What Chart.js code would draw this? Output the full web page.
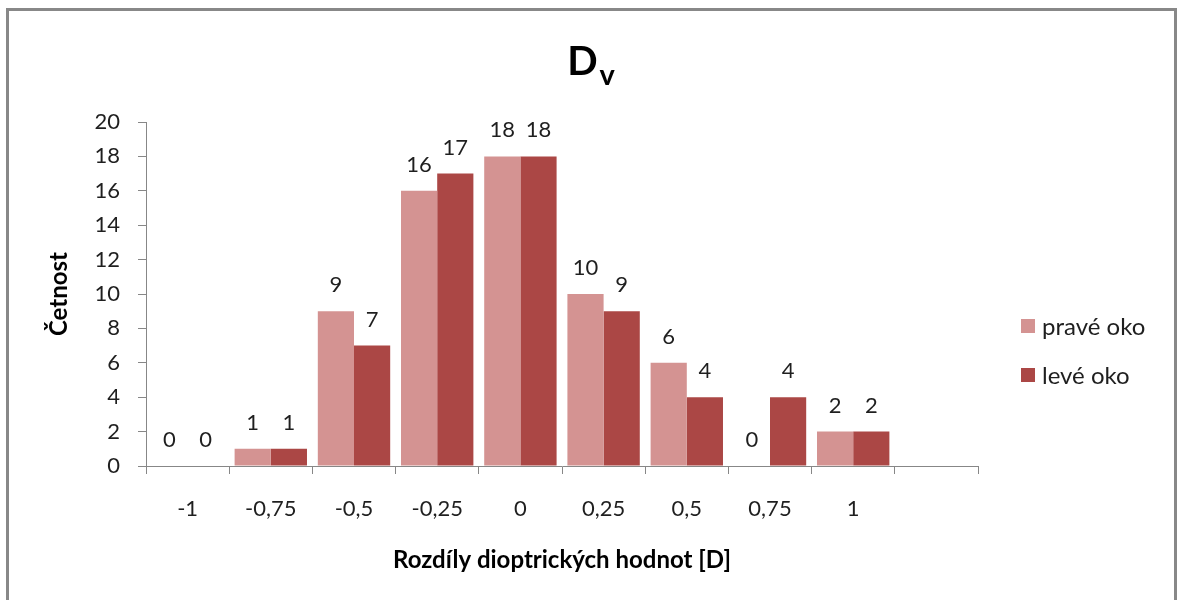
<!DOCTYPE html>
<html>
<head>
<meta charset="utf-8">
<title>Dv – rozdíly dioptrických hodnot</title>
<script src="https://cdn.jsdelivr.net/npm/chart.js@4/dist/chart.umd.min.js"></script>
<style>
  html, body { margin: 0; padding: 0; background: #ffffff; }
  canvas { display: block; }
</style>
</head>
<body>
<canvas id="chart" width="1178" height="600"></canvas>
<script>
// Categories: dioptric differences [D]; the last slot is an empty category
const categories = ['-1', '-0,75', '-0,5', '-0,25', '0', '0,25', '0,5', '0,75', '1', ''];
// Frequencies for each eye
const praveOko = [0, 1, 9, 16, 18, 10, 6, 0, 2, null];
const leveOko  = [0, 1, 7, 17, 18, 9, 4, 4, 2, null];
// Value axis ticks
const yMin = 0, yMax = 20, yStep = 2;

const seriesNames = ['pravé oko', 'levé oko'];
const colors = ['#D49392', '#AB4745'];
const FONT = 'Lato, "Open Sans", sans-serif';
const TEXT = '#1f1f1f';
const AXIS = '#878787';

// Gray frame around the whole chart
const framePlugin = {
  id: 'frame',
  beforeDraw(chart) {
    const ctx = chart.ctx;
    ctx.save();
    ctx.fillStyle = '#ffffff';
    ctx.fillRect(0, 0, chart.width, chart.height);
    ctx.strokeStyle = '#888888';
    ctx.lineWidth = 3;
    ctx.beginPath();
    ctx.moveTo(7.5, chart.height + 2);
    ctx.lineTo(7.5, 9.5);
    ctx.lineTo(1175.5, 9.5);
    ctx.lineTo(1175.5, chart.height + 2);
    ctx.stroke();
    ctx.restore();
  }
};

// Title "D" with subscript "v"
const titlePlugin = {
  id: 'subTitle',
  afterDraw(chart) {
    const ctx = chart.ctx;
    ctx.save();
    ctx.fillStyle = '#000000';
    ctx.textBaseline = 'alphabetic';
    ctx.textAlign = 'left';
    const bigFont = 'bold 40px ' + FONT;
    const smallFont = 'bold 29px ' + FONT;
    ctx.font = bigFont;
    const wD = ctx.measureText('D').width;
    ctx.font = smallFont;
    const wV = ctx.measureText('v').width;
    const total = wD + 2 + wV;
    const x0 = 591 - total / 2;
    ctx.font = bigFont;
    ctx.fillText('D', x0, 75);
    ctx.font = smallFont;
    ctx.fillText('v', x0 + wD + 2, 85);
    ctx.restore();
  }
};

// Value labels above each bar
const valueLabels = {
  id: 'valueLabels',
  afterDatasetsDraw(chart) {
    const ctx = chart.ctx;
    ctx.save();
    ctx.font = '22px ' + FONT;
    ctx.fillStyle = TEXT;
    ctx.textAlign = 'center';
    ctx.textBaseline = 'alphabetic';
    chart.data.datasets.forEach((ds, di) => {
      chart.getDatasetMeta(di).data.forEach((bar, i) => {
        const v = ds.data[i];
        if (v === null || v === undefined) return;
        ctx.fillText(String(v), bar.x, bar.y - 19);
      });
    });
    ctx.restore();
  }
};

// Legend on the right
const sideLegend = {
  id: 'sideLegend',
  afterDraw(chart) {
    const ctx = chart.ctx;
    ctx.save();
    ctx.font = '24px ' + FONT;
    ctx.textBaseline = 'middle';
    ctx.textAlign = 'left';
    const rows = [326, 375];
    chart.data.datasets.forEach((ds, i) => {
      const cy = rows[i];
      ctx.fillStyle = ds.backgroundColor;
      ctx.fillRect(1021, cy - 7, 14, 14);
      ctx.fillStyle = TEXT;
      ctx.fillText(ds.label, 1042, cy + 1);
    });
    ctx.restore();
  }
};

function build() {
  new Chart(document.getElementById('chart'), {
    type: 'bar',
    data: {
      labels: categories,
      datasets: [
        { label: seriesNames[0], data: praveOko, backgroundColor: colors[0] },
        { label: seriesNames[1], data: leveOko, backgroundColor: colors[1] }
      ]
    },
    options: {
      responsive: false,
      animation: false,
      devicePixelRatio: 1,
      layout: { padding: { left: 0, right: 200, top: 122, bottom: 0 } },
      datasets: { bar: { categoryPercentage: 0.87, barPercentage: 1.0, borderWidth: 0 } },
      plugins: {
        legend: { display: false },
        title: { display: false },
        tooltip: { enabled: false }
      },
      scales: {
        x: {
          offset: true,
          afterFit(scale) { scale.height = 134; },
          grid: {
            display: true,
            offset: true,
            drawOnChartArea: false,
            drawTicks: true,
            tickLength: 8,
            color: AXIS,
            lineWidth: 1
          },
          border: { display: true, color: AXIS, width: 1 },
          ticks: {
            color: TEXT,
            font: { family: FONT, size: 22 },
            padding: 22,
            maxRotation: 0,
            autoSkip: false
          },
          title: {
            display: true,
            text: 'Rozdíly dioptrických hodnot [D]',
            color: '#000000',
            font: { family: FONT, size: 24, weight: 'bold' },
            padding: { top: 0, bottom: 25 }
          }
        },
        y: {
          min: yMin,
          max: yMax,
          afterFit(scale) { scale.width = 146; },
          grid: {
            display: true,
            drawOnChartArea: false,
            drawTicks: true,
            tickLength: 8,
            color: AXIS,
            lineWidth: 1
          },
          border: { display: true, color: AXIS, width: 1 },
          ticks: {
            stepSize: yStep,
            color: TEXT,
            font: { family: FONT, size: 22 },
            padding: 18
          },
          title: {
            display: true,
            text: 'Četnost',
            color: '#000000',
            font: { family: FONT, size: 24, weight: 'bold' },
            padding: { top: 45, bottom: 0 }
          }
        }
      }
    },
    plugins: [framePlugin, valueLabels, sideLegend, titlePlugin]
  });
}

if (document.fonts && document.fonts.load) {
  Promise.all([
    document.fonts.load('22px Lato'),
    document.fonts.load('24px Lato'),
    document.fonts.load('bold 24px Lato'),
    document.fonts.load('bold 40px Lato')
  ]).then(build, build);
} else {
  build();
}
</script>
</body>
</html>
